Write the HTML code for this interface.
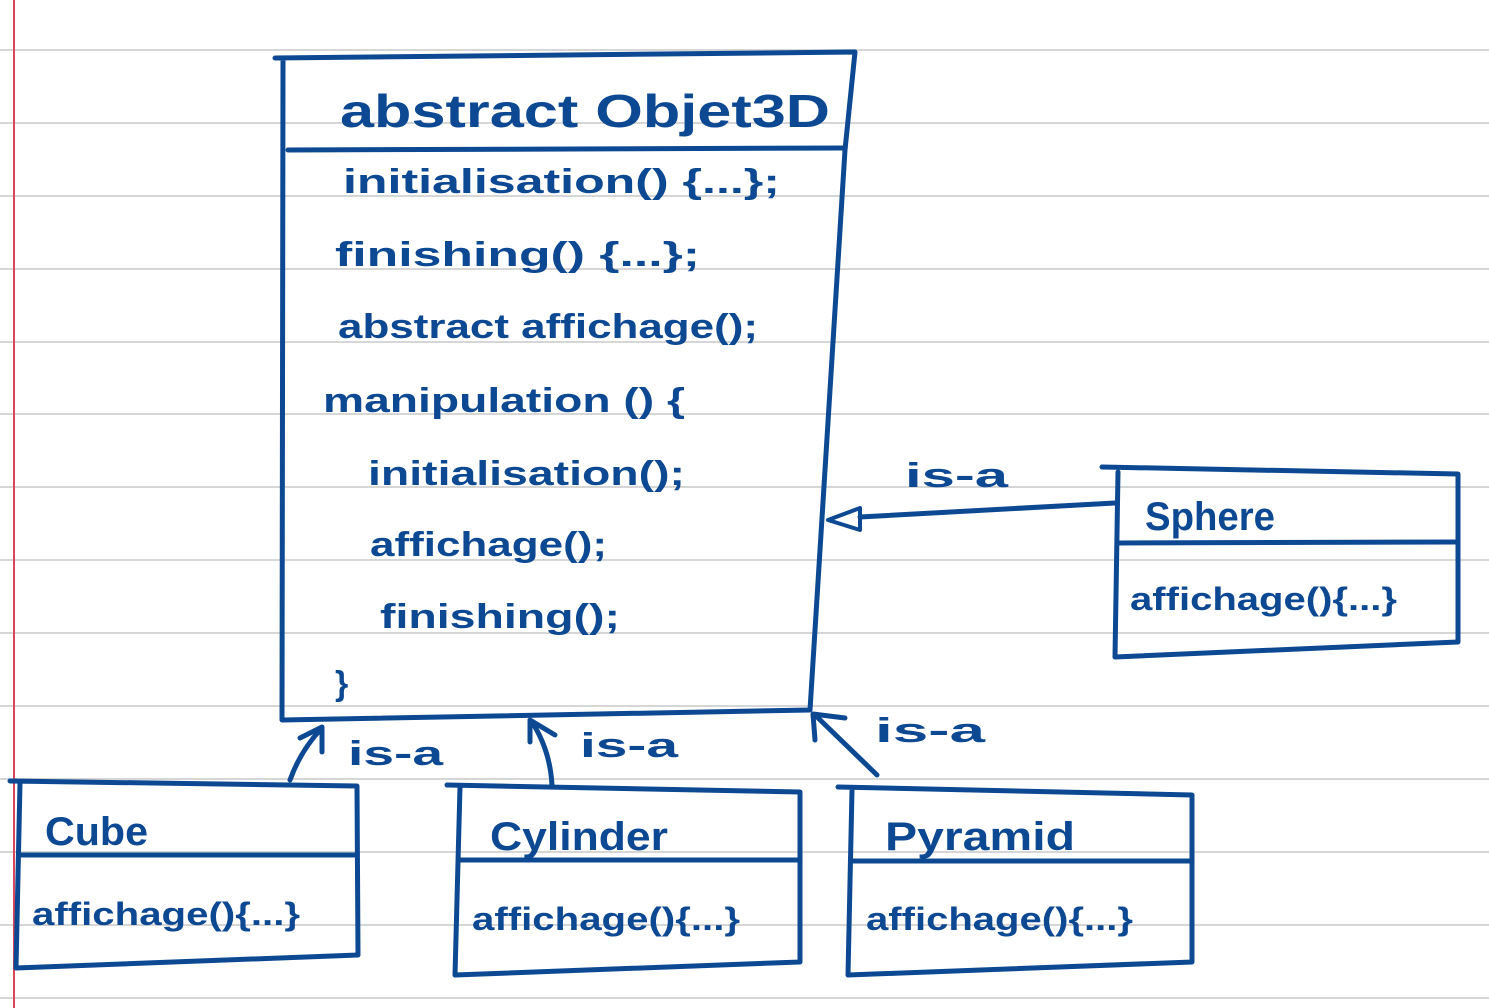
<!DOCTYPE html>
<html><head><meta charset="utf-8"><style>
html,body{margin:0;padding:0;background:#fff;}
svg{display:block}
text{font-family:"Liberation Sans",sans-serif;fill:#0d4892;font-weight:bold;}
</style></head><body>
<svg width="1489" height="1008" viewBox="0 0 1489 1008" xmlns="http://www.w3.org/2000/svg">
<g stroke="#d6d6d6" stroke-width="2">
<line x1="0" y1="50" x2="1489" y2="50"/><line x1="0" y1="123" x2="1489" y2="123"/>
<line x1="0" y1="196" x2="1489" y2="196"/><line x1="0" y1="269" x2="1489" y2="269"/>
<line x1="0" y1="342" x2="1489" y2="342"/><line x1="0" y1="414" x2="1489" y2="414"/>
<line x1="0" y1="487" x2="1489" y2="487"/><line x1="0" y1="560" x2="1489" y2="560"/>
<line x1="0" y1="633" x2="1489" y2="633"/><line x1="0" y1="706" x2="1489" y2="706"/>
<line x1="0" y1="779" x2="1489" y2="779"/><line x1="0" y1="852" x2="1489" y2="852"/>
<line x1="0" y1="925" x2="1489" y2="925"/><line x1="0" y1="998" x2="1489" y2="998"/>
</g>
<line x1="14" y1="0" x2="14" y2="1008" stroke="#d9455a" stroke-width="2"/>
<g stroke="#0d4892" stroke-width="5" fill="none" stroke-linecap="round" stroke-linejoin="round">
<path d="M275 58 L855 52 L845 150 L810 710 L282 720 L283 60"/>
<line x1="288" y1="150" x2="845" y2="148"/>
<path d="M1102 467 L1458 474 L1458 642 L1115 657 L1118 472"/>
<line x1="1118" y1="543" x2="1458" y2="542"/>
<path d="M10 781 L357 786 L358 955 L16 968 L20 783"/>
<line x1="20" y1="855" x2="357" y2="855"/>
<path d="M447 785 L800 792 L800 962 L455 975 L460 787"/>
<line x1="460" y1="860" x2="800" y2="860"/>
<path d="M838 787 L1192 795 L1192 962 L848 975 L852 790"/>
<line x1="852" y1="861" x2="1192" y2="861"/>
<path d="M1115 503 L860 517"/>
<path d="M860 508 L828 520 L860 530 Z" stroke-width="4"/>
<path d="M290 780 Q300 752 320 730"/>
<path d="M300 738 L322 727 L322 752"/>
<path d="M552 785 Q550 750 532 722"/>
<path d="M530 742 L530 720 L555 735"/>
<path d="M877 775 L815 715"/>
<path d="M815 740 L813 714 L845 718"/>
</g>
<text x="340" y="127" font-size="46" textLength="490" lengthAdjust="spacingAndGlyphs">abstract Objet3D</text>
<g font-size="34">
<text x="343" y="193" textLength="437" lengthAdjust="spacingAndGlyphs">initialisation() {...};</text>
<text x="335" y="266" textLength="365" lengthAdjust="spacingAndGlyphs">finishing() {...};</text>
<text x="338" y="338" textLength="420" lengthAdjust="spacingAndGlyphs">abstract affichage();</text>
<text x="323" y="412" textLength="362" lengthAdjust="spacingAndGlyphs">manipulation () {</text>
<text x="368" y="485" textLength="317" lengthAdjust="spacingAndGlyphs">initialisation();</text>
<text x="370" y="556" textLength="237" lengthAdjust="spacingAndGlyphs">affichage();</text>
<text x="380" y="628" textLength="240" lengthAdjust="spacingAndGlyphs">finishing();</text>
<text x="335" y="695">}</text>
<text x="905" y="487" textLength="103" lengthAdjust="spacingAndGlyphs">is-a</text>
<text x="348" y="765" textLength="95" lengthAdjust="spacingAndGlyphs">is-a</text>
<text x="580" y="757" textLength="98" lengthAdjust="spacingAndGlyphs">is-a</text>
<text x="875" y="742" textLength="110" lengthAdjust="spacingAndGlyphs">is-a</text>
</g>
<g font-size="40">
<text x="1145" y="530" textLength="130" lengthAdjust="spacingAndGlyphs">Sphere</text>
<text x="45" y="845" textLength="103" lengthAdjust="spacingAndGlyphs">Cube</text>
<text x="490" y="850" textLength="178" lengthAdjust="spacingAndGlyphs">Cylinder</text>
<text x="885" y="850" textLength="190" lengthAdjust="spacingAndGlyphs">Pyramid</text>
</g>
<g font-size="32">
<text x="1130" y="610" textLength="267" lengthAdjust="spacingAndGlyphs">affichage(){...}</text>
<text x="32" y="925" textLength="268" lengthAdjust="spacingAndGlyphs">affichage(){...}</text>
<text x="472" y="930" textLength="268" lengthAdjust="spacingAndGlyphs">affichage(){...}</text>
<text x="866" y="930" textLength="267" lengthAdjust="spacingAndGlyphs">affichage(){...}</text>
</g>
</svg>
</body></html>
